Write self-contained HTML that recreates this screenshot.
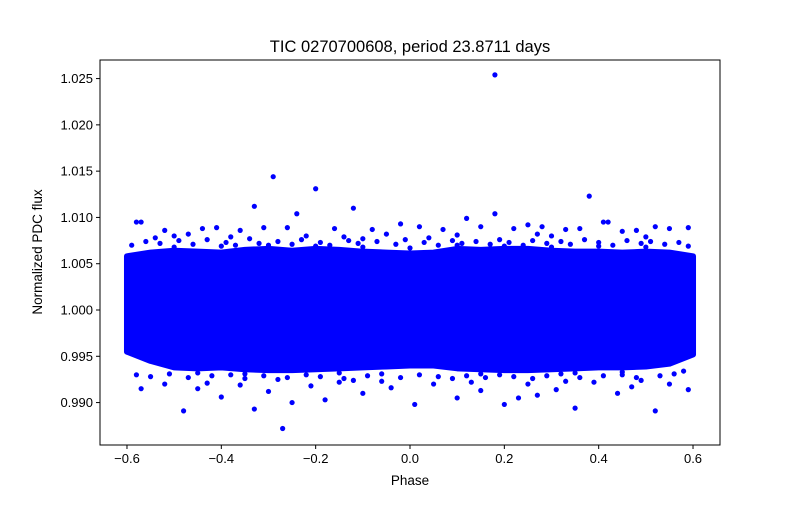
<!DOCTYPE html>
<html><head><meta charset="utf-8"><style>
body{margin:0;background:#fff;}
svg text{font-family:"Liberation Sans","DejaVu Sans",sans-serif;}
</style></head><body>
<svg id="chart" width="800" height="500" xmlns="http://www.w3.org/2000/svg">
<rect width="800" height="500" fill="#fff"/>
<g id="plot"></g>
<g id="axes"></g>
</svg>
<script>
// Data
const xTicks = [-0.6, -0.4, -0.2, 0.0, 0.2, 0.4, 0.6];
const xTickLabels = ["\u22120.6", "\u22120.4", "\u22120.2", "0.0", "0.2", "0.4", "0.6"];
const yTicks = [0.990, 0.995, 1.000, 1.005, 1.010, 1.015, 1.020, 1.025];
const yTickLabels = ["0.990", "0.995", "1.000", "1.005", "1.010", "1.015", "1.020", "1.025"];
// dense band envelope (phase bins, upper/lower flux of the dense core)
const bandPhase = [-0.6,-0.55,-0.5,-0.45,-0.4,-0.35,-0.3,-0.25,-0.2,-0.15,-0.1,-0.05,0,0.05,0.1,0.15,0.2,0.25,0.3,0.35,0.4,0.45,0.5,0.55,0.6];
const bandUpper = [1.0058,1.0062,1.0064,1.0063,1.0062,1.0065,1.0066,1.0064,1.0066,1.0065,1.0063,1.0062,1.0061,1.0062,1.0066,1.0065,1.0066,1.0066,1.0064,1.0063,1.0063,1.0062,1.0063,1.0062,1.0058];
const bandLower = [0.9955,0.9945,0.9938,0.9937,0.9938,0.9936,0.9935,0.9935,0.9936,0.9937,0.9938,0.9939,0.9940,0.9940,0.9937,0.9936,0.9935,0.9935,0.9936,0.9937,0.9938,0.9938,0.9939,0.9942,0.9952];
// sparse points outside the dense core
const ptPhase = [0.18,-0.29,-0.20,0.38,-0.33,-0.12,0.12,0.18,-0.58,-0.57,0.41,0.42,-0.24,-0.02,0.52,0.59,-0.44,-0.41,-0.36,-0.31,-0.26,-0.16,-0.08,0.02,0.07,0.15,0.22,0.25,0.28,0.33,0.36,0.45,0.48,0.55,-0.52,-0.50,-0.47,-0.38,-0.22,-0.14,-0.05,0.04,0.10,0.30,0.50,-0.54,-0.10,0.27,
 -0.27,-0.48,0.52,-0.33,0.35,-0.25,0.20,0.01,0.23,-0.57,0.59,-0.40,-0.18,-0.10,0.10,0.27,0.44,-0.45,-0.30,-0.04,0.15,0.31,0.47,-0.52,-0.36,-0.21,0.05,0.39,0.55,-0.43,-0.15,0.25,0.33,-0.06,0.13,0.49,-0.28,-0.12,
 -0.59,-0.56,-0.53,-0.49,-0.46,-0.43,-0.39,-0.37,-0.34,-0.32,-0.28,-0.25,-0.23,-0.19,-0.17,-0.13,-0.11,-0.07,-0.03,-0.01,0.03,0.06,0.09,0.11,0.14,0.17,0.19,0.21,0.24,0.26,0.29,0.32,0.34,0.37,0.40,0.43,0.46,0.49,0.51,0.54,0.57,0.59,
 -0.58,-0.55,-0.51,-0.47,-0.42,-0.38,-0.35,-0.31,-0.26,-0.22,-0.19,-0.14,-0.09,-0.06,-0.02,0.02,0.06,0.09,0.12,0.16,0.19,0.22,0.26,0.29,0.32,0.36,0.41,0.45,0.48,0.53,0.56,0.58,
 -0.50,-0.40,-0.30,-0.20,-0.10,0.00,0.10,0.20,0.30,0.40,0.50,-0.45,-0.35,-0.15,0.15,0.35,0.45];
const ptFlux = [1.0254,1.0144,1.0131,1.0123,1.0112,1.0110,1.0099,1.0104,1.0095,1.0095,1.0095,1.0095,1.0104,1.0093,1.0090,1.0089,1.0088,1.0089,1.0086,1.0089,1.0089,1.0088,1.0087,1.0090,1.0087,1.0090,1.0088,1.0092,1.0090,1.0087,1.0088,1.0085,1.0086,1.0088,1.0086,1.0080,1.0082,1.0079,1.0080,1.0079,1.0082,1.0078,1.0081,1.0080,1.0079,1.0078,1.0077,1.0082,
 0.9872,0.9891,0.9891,0.9893,0.9894,0.9900,0.9898,0.9898,0.9905,0.9915,0.9914,0.9906,0.9903,0.9910,0.9905,0.9908,0.9910,0.9915,0.9912,0.9916,0.9913,0.9914,0.9917,0.9920,0.9919,0.9918,0.9920,0.9922,0.9920,0.9921,0.9922,0.9920,0.9923,0.9923,0.9922,0.9924,0.9925,0.9924,
 1.0070,1.0074,1.0072,1.0075,1.0071,1.0076,1.0073,1.0070,1.0077,1.0072,1.0074,1.0071,1.0076,1.0073,1.0070,1.0075,1.0072,1.0074,1.0071,1.0076,1.0073,1.0070,1.0075,1.0072,1.0074,1.0071,1.0076,1.0073,1.0070,1.0075,1.0072,1.0074,1.0071,1.0076,1.0073,1.0070,1.0075,1.0072,1.0074,1.0071,1.0073,1.0069,
 0.9930,0.9928,0.9931,0.9927,0.9929,0.9930,0.9926,0.9929,0.9927,0.9930,0.9928,0.9926,0.9929,0.9931,0.9927,0.9930,0.9928,0.9926,0.9929,0.9927,0.9930,0.9928,0.9926,0.9929,0.9931,0.9927,0.9929,0.9930,0.9927,0.9929,0.9931,0.9934,
 1.0068,1.0069,1.0070,1.0069,1.0068,1.0067,1.0070,1.0069,1.0068,1.0069,1.0068,0.9932,0.9931,0.9932,0.9931,0.9932,0.9933];

const X0=100,X1=720,Y0=60,Y1=445;
const xs = v => 410 + v*471.7;
const ys = v => 310 - (v-1)*9257;
const NS="http://www.w3.org/2000/svg";
function mk(tag, attrs, parent){const e=document.createElementNS(NS,tag);for(const k in attrs)e.setAttribute(k,attrs[k]);parent.appendChild(e);return e;}
const plot=document.getElementById('plot'), axes=document.getElementById('axes');

// band
let pts=[];
for(let i=0;i<bandPhase.length;i++)pts.push(xs(bandPhase[i])+','+ys(bandUpper[i]));
for(let i=bandPhase.length-1;i>=0;i--)pts.push(xs(bandPhase[i])+','+ys(bandLower[i]));
const band=mk('polygon',{points:pts.join(' '),fill:'#0000ff',stroke:'#0000ff','stroke-width':6,'stroke-linejoin':'round'},plot);


for(let i=0;i<ptPhase.length;i++){
  const c=mk('circle',{cx:xs(ptPhase[i]),cy:ys(ptFlux[i]),r:2.6,fill:'#0000ff'},plot);
  
  
}
// frame
const fr=mk('rect',{x:X0,y:Y0,width:X1-X0,height:Y1-Y0,fill:'none',stroke:'#000','stroke-width':1},axes);


xTicks.forEach((t,i)=>{
  const x=xs(t);
  mk('line',{x1:x,x2:x,y1:Y1,y2:Y1+4,stroke:'#000'},axes);
  const tx=mk('text',{x:x,y:Y1+18,'text-anchor':'middle','font-size':13,fill:'#000'},axes);
  tx.textContent=xTickLabels[i];
  
  
});
yTicks.forEach((t,i)=>{
  const y=ys(t);
  mk('line',{x1:X0-4,x2:X0,y1:y,y2:y,stroke:'#000'},axes);
  const tx=mk('text',{x:X0-7,y:y+4.5,'text-anchor':'end','font-size':13,fill:'#000'},axes);
  tx.textContent=yTickLabels[i];
  
  
});
const xl=mk('text',{x:410,y:485,'text-anchor':'middle','font-size':13.5},axes);
xl.textContent='Phase';


const yl=mk('text',{x:42,y:252,'text-anchor':'middle','font-size':13.5,transform:'rotate(-90 42 252)'},axes);
yl.textContent='Normalized PDC flux';


const tl=mk('text',{x:410,y:52,'text-anchor':'middle','font-size':16.5},axes);
tl.textContent='TIC 0270700608, period 23.8711 days';


</script>
</body></html>
